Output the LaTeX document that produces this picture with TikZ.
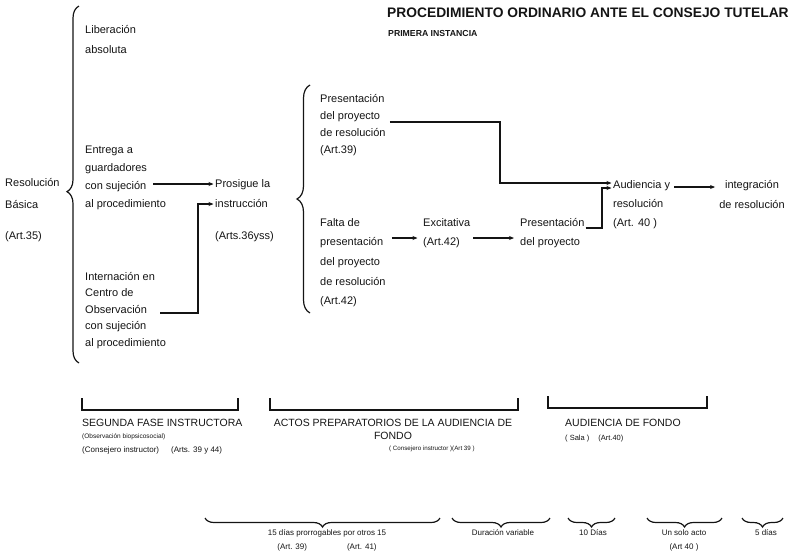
\documentclass[tikz,border=0pt]{standalone}
\usepackage{fontspec}
\setmainfont{Liberation Sans}
\usetikzlibrary{arrows.meta,calc,decorations.pathreplacing}
\definecolor{ink}{HTML}{141414}

\begin{document}
\begin{tikzpicture}[
  x=1pt, y=-1pt,
  >={Stealth[length=5pt, width=4pt]},
  txt/.style={anchor=north west, inner sep=0pt, align=left, text=ink, font=\fontsize{11}{#1}\selectfont},
  txt/.default=18,
  caption/.style={anchor=north west, inner sep=0pt, align=left, text=ink, font=\fontsize{10.5}{13}\selectfont},
  note/.style={anchor=north west, inner sep=0pt, align=left, text=ink, font=\fontsize{#1}{13}\selectfont},
  note/.default=6.5,
  span/.style={anchor=north, inner sep=0pt, align=center, text=ink, font=\fontsize{8}{14}\selectfont},
  link/.style={->, draw=ink, line width=1.2pt, shorten >=1.5pt},
  rule/.style={draw=ink, line width=1.2pt},
  curly/.style={draw=ink, line width=1.2pt, decorate, decoration={brace, amplitude=#1}}
]
\useasboundingbox (0,0) rectangle (791,555);

% Title
\node[anchor=north west, inner sep=0pt, text=ink, font=\bfseries\fontsize{13.8}{16}\selectfont] (title) at (387,8) {PROCEDIMIENTO ORDINARIO ANTE EL CONSEJO TUTELAR};
\node[anchor=north west, inner sep=0pt, text=ink, font=\bfseries\fontsize{8.7}{10}\selectfont] (instancia) at (388,30) {PRIMERA INSTANCIA};

% Basic resolution and its three outcomes
\node[txt=22] (basica) at (5,178) {Resolución\\Básica\\[9pt](Art.35)};
\draw[curly=12pt, decoration={aspect=0.48}] (79,363) -- (79,6);
\node[txt=20] (liberacion) at (85,25) {Liberación\\absoluta};
\node[txt=18] (entrega) at (85,146) {Entrega a\\guardadores\\con sujeción\\al procedimiento};
\node[txt=16.5] (internacion) at (85,272) {Internación en\\Centro de\\Observación\\con sujeción\\al procedimiento};

% Instruction goes on
\node[txt=20] (prosigue) at (215,179) {Prosigue la\\instrucción\\[12pt](Arts.36yss)};
\coordinate (e1) at ($(entrega.north west)+(68,38)$);
\draw[link] (e1) -- (e1 -| prosigue.west);
\coordinate (o1) at ($(internacion.north west)+(75,41)$);
\coordinate (i1) at ($(prosigue.north west)+(-17,25)$);
\draw[link] (o1) -| (i1) -- (i1 -| prosigue.west);

% Project of resolution, presented or not
\draw[curly=13pt] (310,313) -- (310,85);
\node[txt=17] (proyecto) at (320,94) {Presentación\\del proyecto\\de resolución\\(Art.39)};
\node[txt=19.7] (falta) at (320,218) {Falta de\\presentación\\del proyecto\\de resolución\\(Art.42)};
\node[txt=19] (excitativa) at (423,218) {Excitativa\\(Art.42)};
\node[txt=19] (presentacion) at (520,218) {Presentación\\del proyecto};
\node[txt=19] (audiencia) at (613,180) {Audiencia y\\resolución\\(Art. 40 )};
\node[txt=20, anchor=north, align=center] (integracion) at (752,180) {integración\\de resolución};

\coordinate (p1) at ($(proyecto.north east)+(4,28)$);
\coordinate (p2) at ($(audiencia.north west)+(-113,3)$);
\draw[link] (p1) -| (p2) -- (p2 -| audiencia.west);
\coordinate (f1) at ($(excitativa.north west)+(-4,20)$);
\draw[link, shorten <=6pt] (falta.east |- f1) -- (f1);
\coordinate (x1) at ($(excitativa.north east)+(3,20)$);
\draw[link, shorten >=6pt] (x1) -- (x1 -| presentacion.west);
\coordinate (b1) at ($(presentacion.north east)+(1,10)$);
\coordinate (b2) at ($(audiencia.north west)+(-11,8)$);
\draw[link] (b1) -| (b2) -- (b2 -| audiencia.west);
\coordinate (a1) at ($(audiencia.north east)+(4,7)$);
\draw[link, shorten >=4pt] (a1) -- (a1 -| integracion.west);

% Phases
\draw[rule] (82,398) |- (238,410) -- (238,398);
\draw[rule] (270,398) |- (518,410) -- (518,398);
\draw[rule] (548,396) |- (707,408) -- (707,396);
\node[caption] (segunda) at (82,419) {SEGUNDA FASE INSTRUCTORA};
\node[note] (segundanota) at (82,434) {(Observación biopsicosocial)};
\node[note=8] (segundaart) at (82,446) {(Consejero instructor)\hspace{12pt}(Arts. 39 y 44)};
\node[caption, anchor=north, align=center] (actos) at (393,419) {ACTOS PREPARATORIOS DE LA AUDIENCIA DE\\FONDO};
\node[note=6.2] (actosnota) at (389,446) {( Consejero instructor )(Art 39 )};
\node[caption] (fondo) at (565,419) {AUDIENCIA DE FONDO};
\node[note=7.5] (fondonota) at (565,435) {( Sala )\hspace{9pt}(Art.40)};

% Time limits
\foreach \a/\b in {205/440, 452/550, 568/615, 647/722, 742/783}
  \draw[curly=9pt] (\b,518) -- (\a,518);
\node[span] (plazo) at (327,529) {15 días prorrogables por otros 15\\(Art. 39)\hspace{40pt}(Art. 41)};
\node[span] (duracion) at (503,529) {Duración variable};
\node[span] (diez) at (593,529) {10 Días};
\node[span] (acto) at (684,529) {Un solo acto\\(Art 40 )};
\node[span] (cinco) at (766,529) {5 días};

\end{tikzpicture}
\end{document}
